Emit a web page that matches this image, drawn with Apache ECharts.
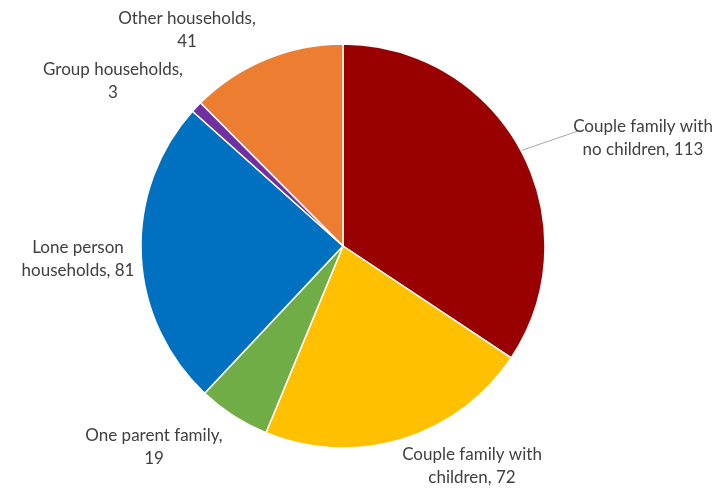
<!DOCTYPE html>
<html>
<head>
<meta charset="utf-8">
<script src="https://cdn.jsdelivr.net/npm/echarts@6/dist/echarts.min.js"></script>
<style>
  html, body { margin: 0; padding: 0; background: #ffffff; }
  #chart { width: 715px; height: 488px; }
</style>
</head>
<body>
<div id="chart"></div>
<script>
// Household composition counts
const categories = [
  'Couple family with no children',
  'Couple family with children',
  'One parent family',
  'Lone person households',
  'Group households',
  'Other households'
];
const values = [113, 72, 19, 81, 3, 41];
const labelTexts = [
  'Couple family with\nno children, 113',
  'Couple family with\nchildren, 72',
  'One parent family,\n19',
  'Lone person\nhouseholds, 81',
  'Group households,\n3',
  'Other households,\n41'
];
const colors = ['#990000', '#ffc000', '#70ad47', '#0070c0', '#7030a0', '#ed7d31'];

// Label anchor points (center of each two-line label block)
const labelAnchors = [
  [643, 138],
  [472, 466],
  [154, 447],
  [78, 259],
  [113, 81],
  [187, 30]
];

const chart = echarts.init(document.getElementById('chart'), null, { renderer: 'canvas' });

chart.setOption({
  animation: false,
  series: [{
    type: 'pie',
    center: [343, 246],
    radius: [0, 202],
    startAngle: 90,
    clockwise: true,
    itemStyle: { borderColor: '#ffffff', borderWidth: 1.5 },
    label: {
      show: true,
      position: 'outside',
      color: '#404040',
      fontFamily: 'Lato, "Liberation Sans", sans-serif',
      fontSize: 17,
      lineHeight: 23,
      align: 'center',
      overflow: 'none',
      formatter: p => labelTexts[p.dataIndex]
    },
    labelLine: { show: false },
    labelLayout: function (params) {
      const a = labelAnchors[params.dataIndex];
      const out = { x: a[0], y: a[1], align: 'center', verticalAlign: 'middle' };
      const pts = params.labelLinePoints;
      if (pts && params.dataIndex === 0) {
        // straight leader from the slice edge to the start of the first text line
        const w = params.labelRect.width;
        const end = [a[0] - w / 2 + 5, a[1] - 7];
        const start = pts[0];
        out.labelLinePoints = [start, [(start[0] + end[0]) / 2, (start[1] + end[1]) / 2], end];
      }
      return out;
    },
    emphasis: { disabled: true },
    data: categories.map((c, i) => ({
      name: c,
      value: values[i],
      itemStyle: { color: colors[i] },
      labelLine: i === 0
        ? { show: true, length: 30, length2: 20, lineStyle: { color: '#a6a6a6', width: 1 } }
        : { show: false }
    }))
  }]
});
</script>
</body>
</html>
